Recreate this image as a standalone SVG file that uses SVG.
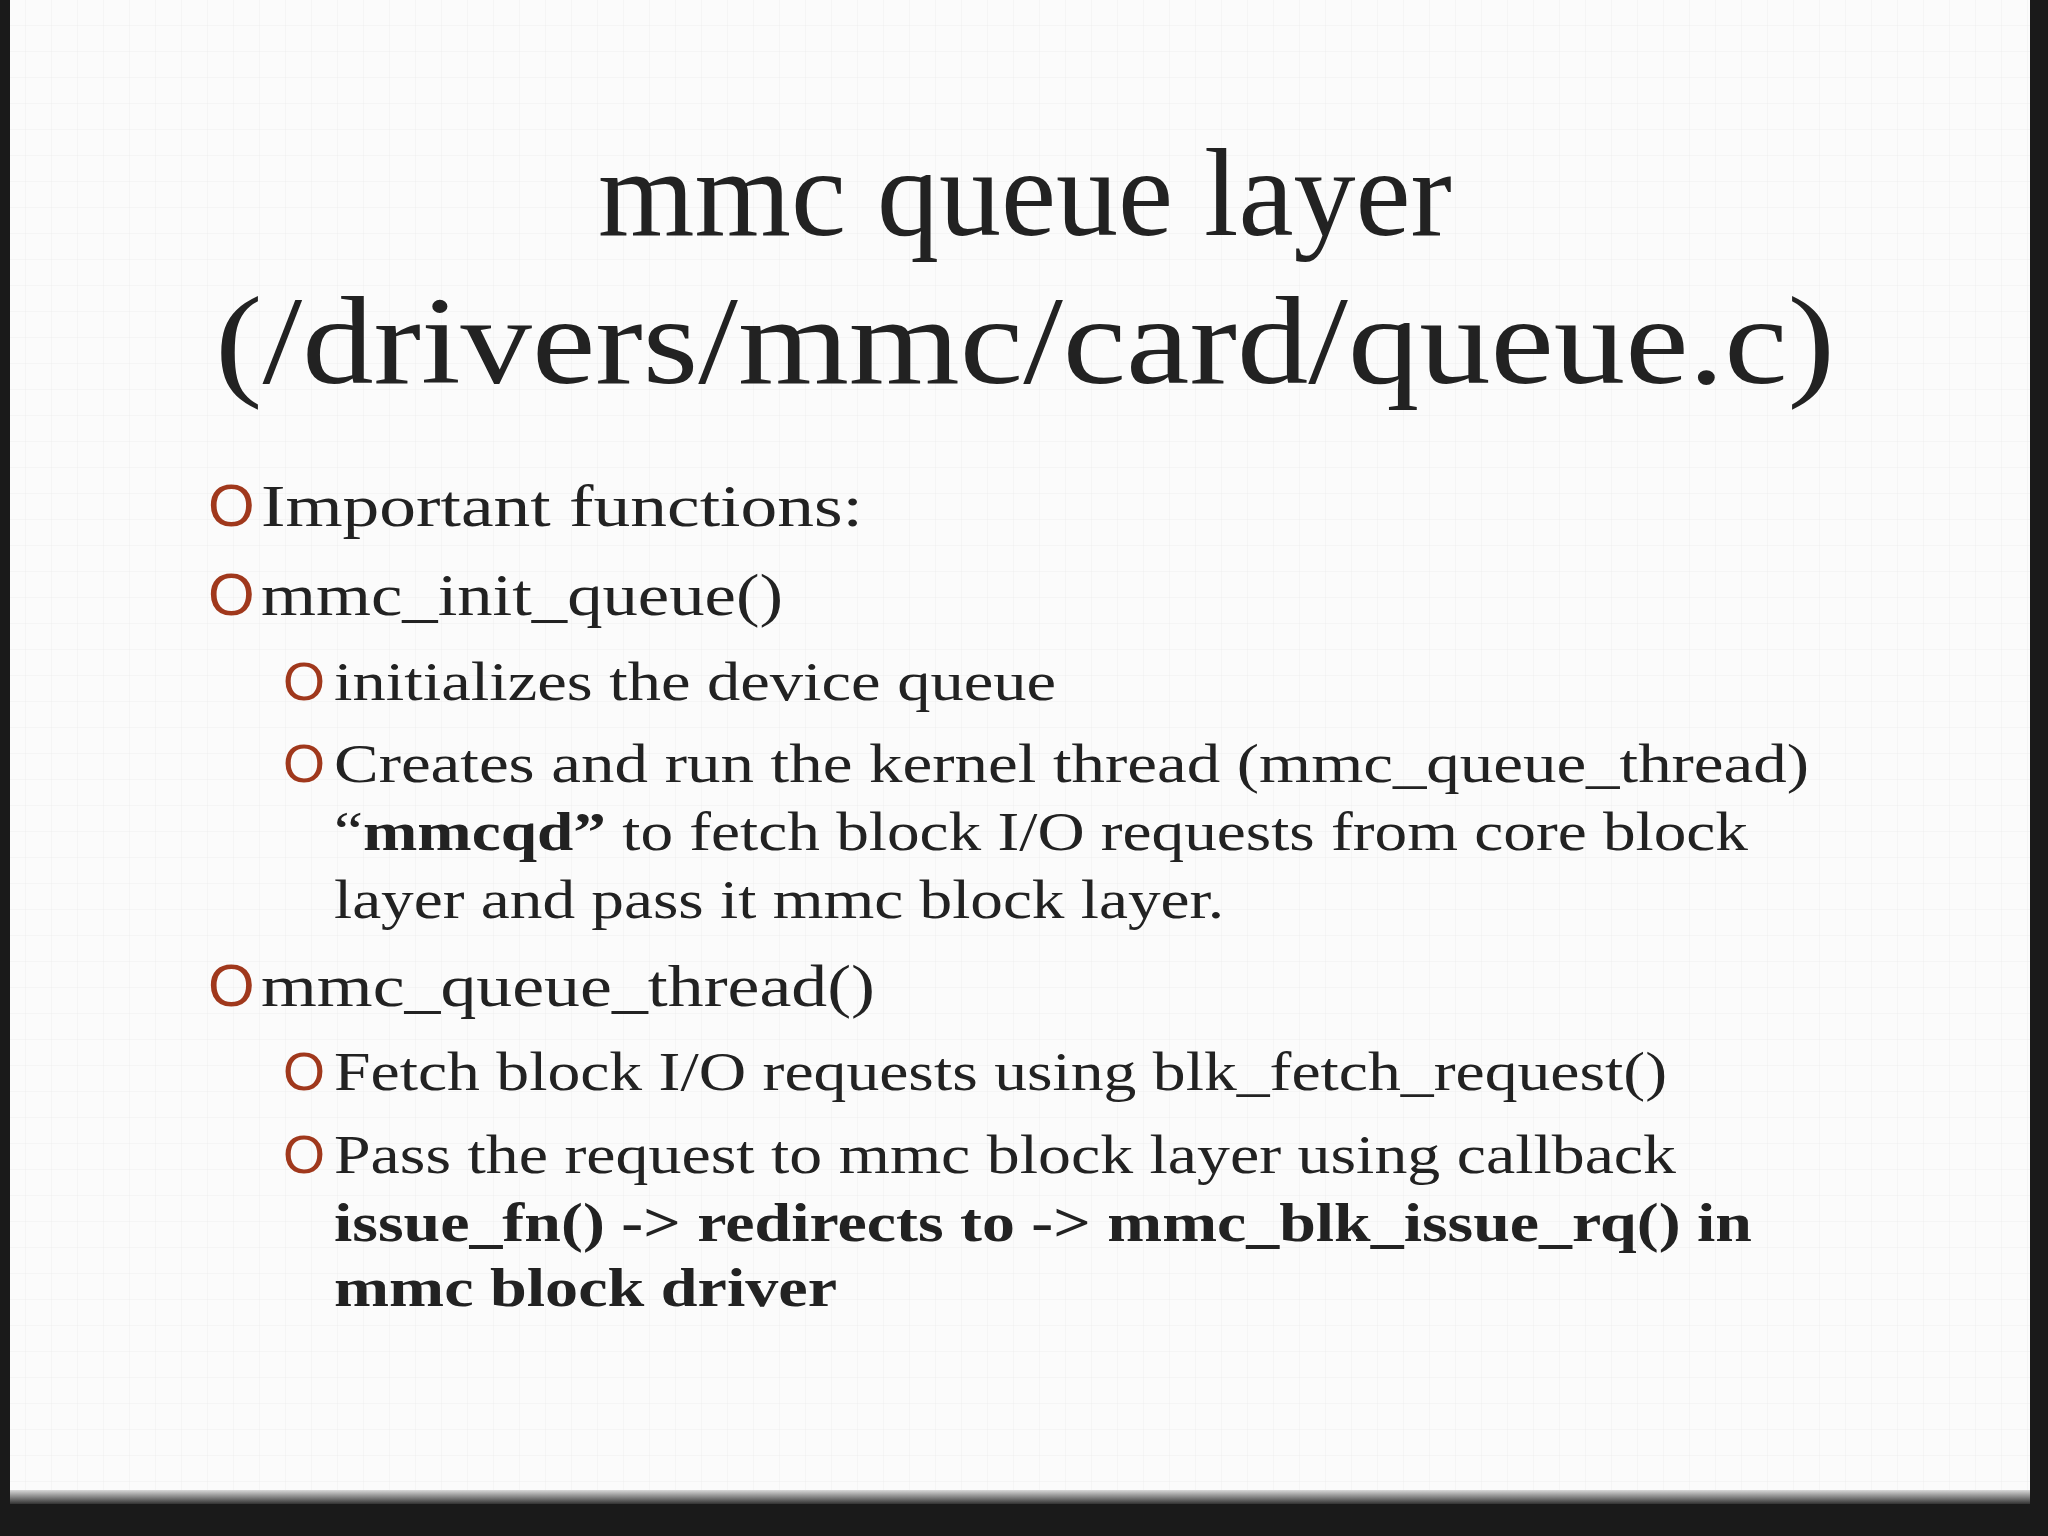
<svg xmlns="http://www.w3.org/2000/svg" width="2048" height="1536" viewBox="0 0 2048 1536">
<defs>
<pattern id="grid" width="26" height="26" patternUnits="userSpaceOnUse">
<path d="M26 0V26H0" fill="none" stroke="#eeeeee" stroke-width="1"/>
</pattern>
<linearGradient id="bot" x1="0" y1="0" x2="0" y2="1">
<stop offset="0" stop-color="#d8d8d8"/><stop offset="1" stop-color="#333"/>
</linearGradient>
</defs>
<style>
.t{font-family:"Liberation Serif","DejaVu Serif",serif;fill:#222}
.b{font-family:"Liberation Sans",sans-serif;fill:#a0381c}
.l1{font-size:60px}
.l2{font-size:54px}
.bd{font-weight:bold}
</style>
<rect width="2048" height="1536" fill="#1a1a1a"/>
<rect x="10" y="0" width="2020" height="1500" fill="#fbfbfb"/>
<rect x="10" y="0" width="2020" height="1500" fill="url(#grid)"/>
<rect x="10" y="1490" width="2020" height="14" fill="url(#bot)"/>
<g id="title" class="t" text-anchor="middle" font-size="124">
<text x="1025" y="235">mmc queue layer</text>
<text x="1025" y="383" textLength="1620" lengthAdjust="spacingAndGlyphs">(/drivers/mmc/card/queue.c)</text>
</g>
<g id="bullets">
<text class="b l1" x="208" y="526">O</text>
<text class="t l1" x="261" y="526" textLength="602" lengthAdjust="spacingAndGlyphs">Important functions:</text>
<text class="b l1" x="208" y="615">O</text>
<text class="t l1" x="261" y="615" textLength="522" lengthAdjust="spacingAndGlyphs">mmc_init_queue()</text>
<text class="b l2" x="283" y="700">O</text>
<text class="t l2" x="334" y="700" textLength="722" lengthAdjust="spacingAndGlyphs">initializes the device queue</text>
<text class="b l2" x="283" y="782">O</text>
<text class="t l2" x="334" y="782" textLength="1475" lengthAdjust="spacingAndGlyphs">Creates and run the kernel thread (mmc_queue_thread)</text>
<text class="t l2" x="334" y="850" textLength="1414" lengthAdjust="spacingAndGlyphs">“<tspan class="bd">mmcqd”</tspan> to fetch block I/O requests from core block</text>
<text class="t l2" x="334" y="918" textLength="890" lengthAdjust="spacingAndGlyphs">layer and pass it mmc block layer.</text>
<text class="b l1" x="208" y="1006">O</text>
<text class="t l1" x="261" y="1006" textLength="614" lengthAdjust="spacingAndGlyphs">mmc_queue_thread()</text>
<text class="b l2" x="283" y="1090">O</text>
<text class="t l2" x="334" y="1090" textLength="1333" lengthAdjust="spacingAndGlyphs">Fetch block I/O requests using blk_fetch_request()</text>
<text class="b l2" x="283" y="1173">O</text>
<text class="t l2" x="334" y="1173" textLength="1342" lengthAdjust="spacingAndGlyphs">Pass the request to mmc block layer using callback</text>
<text class="t l2 bd" x="334" y="1241" textLength="1418" lengthAdjust="spacingAndGlyphs">issue_fn() -&gt; redirects to -&gt; mmc_blk_issue_rq() in</text>
<text class="t l2 bd" x="334" y="1306" textLength="503" lengthAdjust="spacingAndGlyphs">mmc block driver</text>
</g>
</svg>
